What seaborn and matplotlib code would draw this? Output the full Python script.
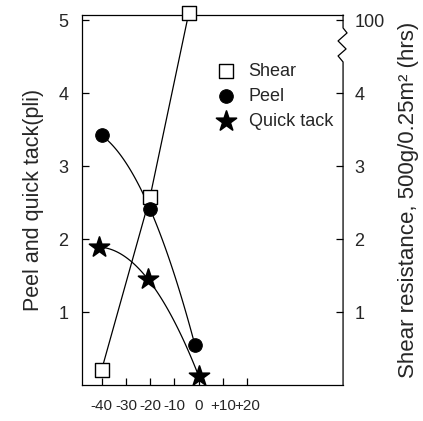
import matplotlib
matplotlib.use('Agg')
import matplotlib.pyplot as plt
import seaborn as sns

# Values
x_ticks = [-40, -30, -20, -10, 0, 10, 20]
x_tick_labels = ['-40', '-30', '-20', '-10', '0', '+10', '+20']
left_ticks = [1, 2, 3, 4, 5]
left_tick_labels = ['1', '2', '3', '4', '5']
right_tick_labels = ['1', '2', '3', '4', '100']

shear_temp = [-40, -20, -4]
shear_val = [0.21, 2.58, 5.1]
peel_temp = [-40, -20, -1.5]
peel_val = [3.42, 2.41, 0.55]
tack_temp = [-41.3, -20.9, 0]
tack_val = [1.89, 1.45, 0.13]

sns.set_style('ticks')
plt.rcParams['font.family'] = ['Liberation Sans', 'DejaVu Sans']
plt.rcParams['xtick.direction'] = 'in'
plt.rcParams['ytick.direction'] = 'in'

fig = plt.figure(figsize=(4.23, 4.21), dpi=100)
ax = fig.add_axes([0.194, 0.0855, 0.617, 0.879])

line_kws = dict(color='black', lw=0.9)
# shear: straight segments, peel & quick tack: smooth curves through the points
sns.lineplot(x=shear_temp, y=shear_val, estimator=None, sort=True, ax=ax, **line_kws)
sns.regplot(x=peel_temp, y=peel_val, order=2, ci=None, scatter=False, ax=ax, line_kws=line_kws)
sns.regplot(x=tack_temp, y=tack_val, order=2, ci=None, scatter=False, ax=ax, line_kws=line_kws)

sns.scatterplot(x=shear_temp, y=shear_val, marker='s', s=110, color='white',
                edgecolor='black', linewidth=1.0, label='Shear', ax=ax, zorder=5, clip_on=False)
sns.scatterplot(x=peel_temp, y=peel_val, marker='o', s=95, color='black',
                edgecolor='black', label='Peel', ax=ax, zorder=5, clip_on=False)
sns.scatterplot(x=tack_temp, y=tack_val, marker='*', s=230, color='black',
                edgecolor='black', label='Quick tack', ax=ax, zorder=5, clip_on=False)

ax.set_xlim(-48.1, 59.7)
ax.set_ylim(0, 5.07)
ax.set_xticks(x_ticks, labels=x_tick_labels, fontsize=11)
ax.set_yticks(left_ticks, labels=left_tick_labels, fontsize=13)
ax.tick_params(axis='both', length=5, width=0.9, color='black', pad=10)
ax.set_ylabel('Peel and quick tack(pli)', fontsize=15.5, labelpad=10)
ax.set_xlabel('')

for side in ['left', 'bottom', 'top']:
    ax.spines[side].set_color('black')
    ax.spines[side].set_linewidth(0.9)
ax.spines['right'].set_visible(False)

ax2 = ax.twinx()
ax2.set_ylim(ax.get_ylim())
ax2.set_yticks(left_ticks, labels=right_tick_labels, fontsize=13)
ax2.tick_params(axis='y', length=5, width=0.9, color='black', pad=8, direction='in')
ax2.set_ylabel('Shear resistance, 500g/0.25m² (hrs)', fontsize=16, labelpad=10)
for side in ax2.spines:
    ax2.spines[side].set_visible(False)

# right spine with a break mark near the top
zx = [343, 343, 347, 338, 346, 338, 343, 343]
zy = [15, 28, 33, 41, 49, 56, 62, 385]
ax.plot([(p - 82) / 261 for p in zx], [(385 - p) / 370 for p in zy],
        transform=ax.transAxes, color='black', lw=0.9, clip_on=False)

ax.legend(frameon=False, loc='upper left', bbox_to_anchor=(0.455, 0.89),
          fontsize=13, handletextpad=0.25, labelspacing=0.45, borderaxespad=0)

fig.savefig('out.png', dpi=100)
